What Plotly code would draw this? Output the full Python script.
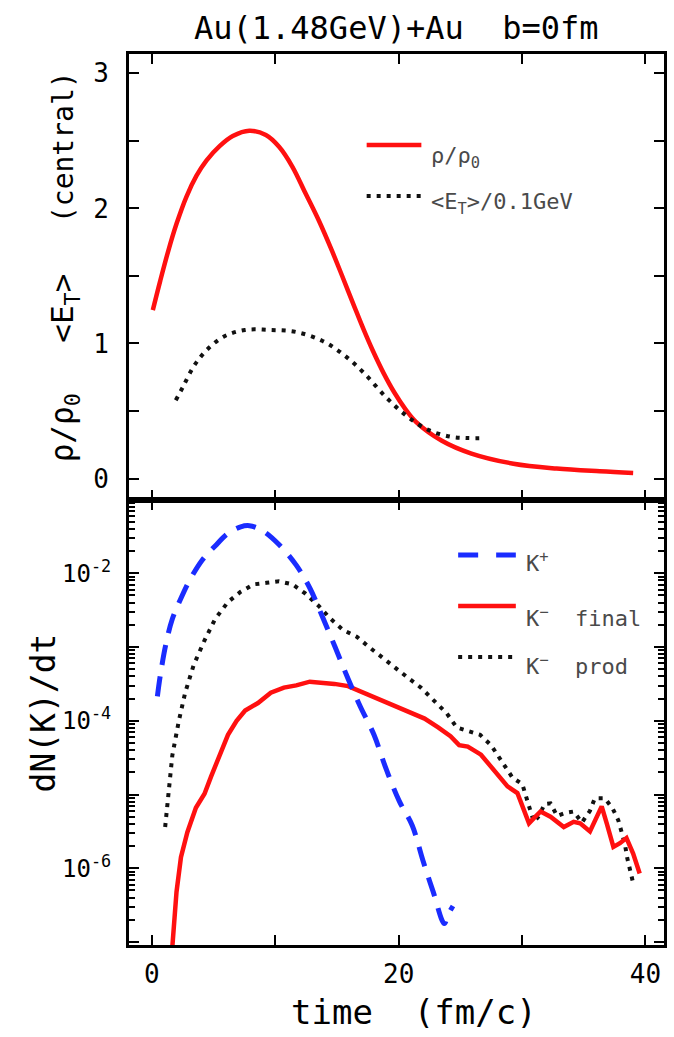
import plotly.graph_objects as go
from plotly.subplots import make_subplots

# ---------------- data ----------------
# upper panel: central density and mean transverse energy vs time (fm/c)
rho_t = [0.08, 0.67, 1.34, 2.0, 2.81, 3.62, 4.42, 5.49, 6.56, 7.9, 9.24, 10.31, 11.38,
         12.46, 13.53, 14.6, 15.4, 16.4, 17.2, 17.9, 18.8, 19.65, 20.5, 21.4, 23.5,
         25.9, 29.3, 32.8, 36.3, 39.0]
rho_ratio = [1.247, 1.46, 1.688, 1.886, 2.088, 2.242, 2.354, 2.461, 2.536, 2.575, 2.543,
             2.456, 2.31, 2.11, 1.91, 1.685, 1.505, 1.275, 1.095, 0.948, 0.777, 0.637,
             0.52, 0.42, 0.28, 0.185, 0.11, 0.074, 0.054, 0.042]

et_t = [1.94, 2.53, 3.39, 4.43, 5.81, 7.54, 9.6, 11.7, 13.8, 15.5, 17.2, 19.0,
        20.7, 22.4, 24.2, 25.5, 27.0]
et_scaled = [0.58, 0.68, 0.83, 0.95, 1.05, 1.10, 1.10, 1.085, 1.02, 0.92, 0.78,
             0.60, 0.46, 0.36, 0.31, 0.30, 0.30]

# lower panel: kaon production rates, stored as log10(dN/dt)
kplus_t = [0.45, 0.69, 1.14, 1.66, 2.36, 3.05, 4.09, 5.13, 6.17, 7.2, 7.9, 8.95,
           10.3, 11.7, 12.8, 13.8, 14.85, 15.9, 16.9, 18.0, 19.0, 20.05, 21.1,
           21.96, 22.8, 23.7, 24.0, 24.4]
kplus_log10 = [-3.67, -3.38, -2.96, -2.62, -2.34, -2.10, -1.82, -1.63, -1.46, -1.37,
               -1.355, -1.42, -1.61, -1.89, -2.20, -2.58, -3.0, -3.43, -3.81, -4.19,
               -4.66, -5.09, -5.42, -5.89, -6.32, -6.75, -6.63, -6.51]

kminus_final_t = [1.6, 1.66, 2.0, 2.36, 2.88, 3.57, 4.27, 4.79, 5.48, 6.17, 6.87, 7.56,
                  8.6, 9.64, 10.7, 11.7, 12.8, 13.8, 14.8, 15.9, 16.9, 18.0, 19.0,
                  20.05, 21.1, 22.1, 23.2, 24.2, 24.9, 25.6, 26.67, 27.48, 28.28,
                  28.82, 29.62, 30.16, 30.56, 30.96, 31.5, 32.3, 33.38, 34.18, 34.71,
                  35.5, 36.05, 36.45, 36.86, 37.4, 37.93, 38.46, 39.0, 39.53]
kminus_final_log10 = [-7.2, -7.04, -6.32, -5.85, -5.51, -5.18, -4.99, -4.76, -4.47,
                      -4.19, -4.0, -3.86, -3.76, -3.62, -3.55, -3.52, -3.47, -3.48,
                      -3.50, -3.53, -3.60, -3.69, -3.76, -3.83, -3.90, -3.97, -4.09,
                      -4.21, -4.33, -4.35, -4.46, -4.62, -4.80, -4.89, -4.98, -5.21,
                      -5.39, -5.32, -5.23, -5.30, -5.44, -5.37, -5.39, -5.50, -5.30,
                      -5.16, -5.39, -5.71, -5.66, -5.59, -5.80, -6.07]

kminus_prod_t = [1.08, 1.32, 1.66, 2.19, 2.7, 3.4, 4.27, 5.13, 6.17, 7.2, 8.25, 9.3,
                 10.3, 11.4, 12.4, 13.5, 14.5, 15.5, 16.6, 17.6, 18.7, 19.7, 20.7,
                 21.8, 22.8, 23.9, 24.7, 25.6, 26.6, 27.48, 28.07, 28.6, 29.22, 30.02,
                 30.37, 30.64, 30.96, 31.37, 31.82, 32.3, 32.84, 33.5, 34.18, 34.85,
                 35.5, 35.9, 36.7, 37.34, 37.8, 38.06, 38.33, 38.52, 38.73, 39.0]
kminus_prod_log10 = [-5.44, -5.04, -4.47, -4.0, -3.62, -3.24, -2.91, -2.62, -2.39,
                     -2.25, -2.15, -2.13, -2.11, -2.15, -2.27, -2.44, -2.62, -2.77,
                     -2.86, -3.0, -3.15, -3.29, -3.41, -3.55, -3.71, -3.9, -4.09,
                     -4.14, -4.19, -4.33, -4.48, -4.63, -4.77, -4.86, -5.03, -5.20,
                     -5.37, -5.29, -5.13, -5.12, -5.29, -5.25, -5.23, -5.38, -5.22,
                     -5.05, -5.05, -5.19, -5.35, -5.50, -5.67, -5.86, -6.03, -6.20]

x_ticks = [0, 10, 20, 30, 40]
x_ticklabels = ["0", "", "20", "", "40"]
top_ticks = [0, 0.5, 1, 1.5, 2, 2.5, 3]
top_ticklabels = ["0", "", "1", "", "2", "", "3"]
log_decades = [-7, -6, -5, -4, -3, -2, -1]
log_ticklabels = ["", "10<sup>-6</sup>", "", "10<sup>-4</sup>", "", "10<sup>-2</sup>", ""]

# ---------------- styling ----------------
W, H = 674, 1037
ML, MR, MT, MB = 129, 7, 54, 92
PW, PH = W - ML - MR, H - MT - MB
FONT = "DejaVu Sans Mono"
RED, BLUE, BLACK = "#ff1010", "#1a2cff", "#111111"
LEG_TXT = "#4a4a4a"
NB = "\u00a0"


def px_x(px):
    return (px - ML) / PW


def px_y(py):
    return (H - MB - py) / PH


fig = make_subplots(rows=2, cols=1, vertical_spacing=0)

fig.add_trace(go.Scatter(x=rho_t, y=rho_ratio, mode="lines", line_shape="spline",
                         line=dict(color=RED, width=4.5), showlegend=False), row=1, col=1)
fig.add_trace(go.Scatter(x=et_t, y=et_scaled, mode="lines", line_shape="spline",
                         line=dict(color=BLACK, width=4, dash="4px,6px"),
                         showlegend=False), row=1, col=1)

fig.add_trace(go.Scatter(x=kminus_prod_t, y=[10 ** v for v in kminus_prod_log10],
                         mode="lines", line=dict(color=BLACK, width=4, dash="4px,6px"),
                         showlegend=False), row=2, col=1)
fig.add_trace(go.Scatter(x=kminus_final_t, y=[10 ** v for v in kminus_final_log10],
                         mode="lines", line=dict(color=RED, width=4.5),
                         showlegend=False), row=2, col=1)
fig.add_trace(go.Scatter(x=kplus_t, y=[10 ** v for v in kplus_log10], mode="lines",
                         line_shape="spline",
                         line=dict(color=BLUE, width=5, dash="20px,12px"),
                         showlegend=False), row=2, col=1)

axis_common = dict(showline=True, linewidth=3, linecolor="black", mirror="ticks",
                   ticks="inside", ticklen=10, tickwidth=2, tickcolor="black",
                   showgrid=False, zeroline=False,
                   tickfont=dict(family=FONT, size=26, color="black"))

fig.update_xaxes(range=[-1.85, 41.5], tickmode="array", tickvals=x_ticks,
                 ticktext=x_ticklabels, **axis_common)
fig.update_xaxes(showticklabels=False, row=1, col=1)
fig.update_xaxes(ticklabelstandoff=4, row=2, col=1)

fig.update_yaxes(range=[-0.155, 3.143], tickmode="array", tickvals=top_ticks,
                 ticktext=top_ticklabels, ticklabelstandoff=12, row=1, col=1,
                 **axis_common)

minor_vals = [m * 10 ** d for d in log_decades[:-1] for m in range(2, 10)]
log_axis = dict(axis_common)
log_axis["tickfont"] = dict(family=FONT, size=24, color="black")
fig.update_yaxes(type="log", range=[-7.04, -1.0], tickmode="array",
                 tickvals=[10 ** d for d in log_decades], ticktext=log_ticklabels,
                 ticklabelstandoff=10,
                 minor=dict(tickmode="array", tickvals=minor_vals, ticks="inside",
                            ticklen=6, tickwidth=1.5, tickcolor="black"),
                 row=2, col=1, **log_axis)

# ---------------- legend samples and labels ----------------
shapes = []
annotations = []


def legend_entry(x0, x1, y_line, y_text, color, width, dash, label, size=22):
    shapes.append(dict(type="line", xref="paper", yref="paper",
                       x0=px_x(x0), x1=px_x(x1), y0=px_y(y_line), y1=px_y(y_line),
                       line=dict(color=color, width=width, dash=dash)))
    annotations.append(dict(x=px_x(x1 + 8), y=px_y(y_text), xref="paper", yref="paper",
                            text=label, showarrow=False, xanchor="left", yanchor="middle",
                            font=dict(family=FONT, size=size, color=LEG_TXT)))


legend_entry(368, 423, 145, 157, RED, 4.5, "solid", "ρ/ρ<sub>0</sub>")
legend_entry(368, 423, 196, 203, BLACK, 4, "4px,6px", "&lt;E<sub>T</sub>&gt;/0.1GeV")
legend_entry(460, 518, 555, 562, BLUE, 5, "20px,18px", "K<sup>+</sup>")
legend_entry(460, 518, 606, 617, RED, 4.5, "solid", "K<sup>−</sup>" + NB * 2 + "final")
legend_entry(460, 518, 657, 665, BLACK, 4, "4px,6px", "K<sup>−</sup>" + NB * 2 + "prod")

# titles
annotations.append(dict(x=px_x(397.5), y=px_y(28), xref="paper", yref="paper",
                        text="Au(1.48GeV)+Au" + NB * 2 + "b=0fm", showarrow=False,
                        xanchor="center", yanchor="middle",
                        font=dict(family=FONT, size=32, color="black")))
annotations.append(dict(x=px_x(416), y=px_y(1012), xref="paper", yref="paper",
                        text="time" + NB * 2 + "(fm/c)", showarrow=False,
                        xanchor="center", yanchor="middle",
                        font=dict(family=FONT, size=34, color="black")))
top_ytitle = ("<span style='font-size:31px'>ρ/ρ<sub>0</sub></span>" + NB * 3 +
              "<span style='font-size:31px'>&lt;E<sub>T</sub>&gt;</span>" + NB * 3 +
              "(central)")
annotations.append(dict(x=px_x(64), y=px_y(267), xref="paper", yref="paper",
                        text=top_ytitle, showarrow=False, textangle=-90,
                        xanchor="center", yanchor="middle",
                        font=dict(family=FONT, size=28, color="black")))
annotations.append(dict(x=px_x(43), y=px_y(713), xref="paper", yref="paper",
                        text="dN(K)/dt", showarrow=False, textangle=-90,
                        xanchor="center", yanchor="middle",
                        font=dict(family=FONT, size=33, color="black")))

fig.update_layout(width=W, height=H, margin=dict(l=ML, r=MR, t=MT, b=MB),
                  paper_bgcolor="white", plot_bgcolor="white", showlegend=False,
                  shapes=shapes, annotations=annotations)

fig.write_html("out.html")
